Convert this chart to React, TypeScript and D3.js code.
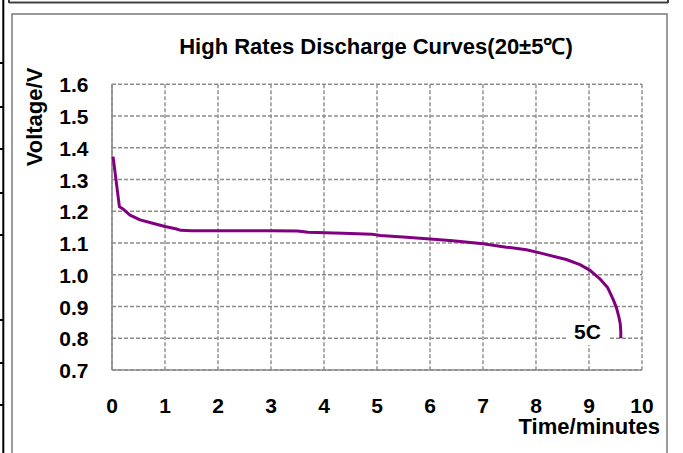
import React from "react";
import * as d3 from "d3";

const xTicks = [0, 1, 2, 3, 4, 5, 6, 7, 8, 9, 10];
const yTicks = [0.7, 0.8, 0.9, 1.0, 1.1, 1.2, 1.3, 1.4, 1.5, 1.6];
const times = [0.02, 0.14, 0.21, 0.34, 0.53, 0.75, 1.0, 1.2, 1.3, 1.5, 2.0, 2.5, 3.0, 3.5, 3.7, 4.36, 4.9, 5.06, 5.56, 6.0, 6.43, 7.0, 7.44, 7.82, 8.07, 8.57, 8.83, 9.02, 9.2, 9.35, 9.46, 9.52, 9.56, 9.59, 9.6, 9.6];
const voltages = [1.372, 1.214, 1.207, 1.188, 1.173, 1.163, 1.152, 1.145, 1.14, 1.139, 1.139, 1.139, 1.139, 1.138, 1.134, 1.131, 1.128, 1.124, 1.118, 1.113, 1.107, 1.098, 1.087, 1.079, 1.069, 1.048, 1.032, 1.014, 0.988, 0.96, 0.921, 0.895, 0.87, 0.845, 0.82, 0.80];
const seriesLabel = "5C";
const title = "High Rates Discharge Curves(20±5℃)";
const xLabel = "Time/minutes";
const yLabel = "Voltage/V";
const tableLines = [63, 107, 149, 193, 235, 320, 363, 405];

export default function App() {
  const W = 683, H = 453;
  const left = 112, right = 642, top = 84.3, bottom = 370;
  const x = d3.scaleLinear().domain([0, 10]).range([left, right]);
  const y = d3.scaleLinear().domain([0.7, 1.6]).range([bottom, top]);
  const data = times.map((t, i) => [t, voltages[i]] as [number, number]);
  const line = d3.line<[number, number]>().x(d => x(d[0])).y(d => y(d[1]));
  const font = "'Liberation Sans', Arial, sans-serif";
  const grid = "#8c8c8c";
  return (
    <svg width={W} height={H} style={{ position: "absolute", left: 0, top: 0, background: "#fff" }} fontFamily={font}>
      <rect x={0} y={0} width={W} height={H} fill="#fff" />
      {/* left table fragment */}
      <line x1={3.3} x2={3.3} y1={0} y2={H} stroke="#000" strokeWidth={2} />
      {tableLines.map((v, i) => (
        <line key={i} x1={0} x2={4} y1={v} y2={v} stroke="#000" strokeWidth={2} />
      ))}
      {/* top box */}
      <line x1={9} x2={668} y1={2.5} y2={2.5} stroke="#404040" strokeWidth={2} />
      <line x1={9} x2={9} y1={0} y2={3} stroke="#404040" strokeWidth={2} />
      <line x1={668} x2={668} y1={0} y2={3} stroke="#404040" strokeWidth={2} />
      {/* chart frame */}
      <rect x={12} y={14} width={655} height={H} fill="#fff" stroke="#7a7a7a" strokeWidth={1.5} />
      {/* gridlines */}
      {yTicks.map((v, i) => (
        <line key={"gy" + i} x1={left} x2={right} y1={y(v)} y2={y(v)} stroke={grid} strokeWidth={1.4} strokeDasharray="4,2" />
      ))}
      {xTicks.map((v, i) => (
        <line key={"gx" + i} x1={x(v)} x2={x(v)} y1={top} y2={bottom} stroke={grid} strokeWidth={1.4} strokeDasharray="4,2" />
      ))}
      <line x1={left} x2={left} y1={top} y2={bottom} stroke={grid} strokeWidth={1.6} />
      <line x1={left} x2={right} y1={bottom} y2={bottom} stroke={grid} strokeWidth={1.6} />
      {/* curve */}
      <path d={line(data) || ""} fill="none" stroke="#800080" strokeWidth={3} strokeLinejoin="round" />
      {/* series label */}
      <rect x={567} y={321} width={41} height={24} fill="#fff" />
      <text x={587.5} y={339} textAnchor="middle" fontSize={21} fontWeight="bold">{seriesLabel}</text>
      {/* tick labels */}
      {yTicks.map((v, i) => (
        <text key={"ty" + i} x={88.5} y={y(v) + 8} textAnchor="end" fontSize={21} fontWeight="bold">{v.toFixed(1)}</text>
      ))}
      {xTicks.map((v, i) => (
        <text key={"tx" + i} x={x(v)} y={413} textAnchor="middle" fontSize={21} fontWeight="bold">{v}</text>
      ))}
      <text x={376} y={54} textAnchor="middle" fontSize={22} fontWeight="bold">{title}</text>
      <text x={660} y={434} textAnchor="end" fontSize={22} fontWeight="bold">{xLabel}</text>
      <text transform={`translate(42,117) rotate(-90)`} textAnchor="middle" fontSize={22} fontWeight="bold">{yLabel}</text>
    </svg>
  );
}
